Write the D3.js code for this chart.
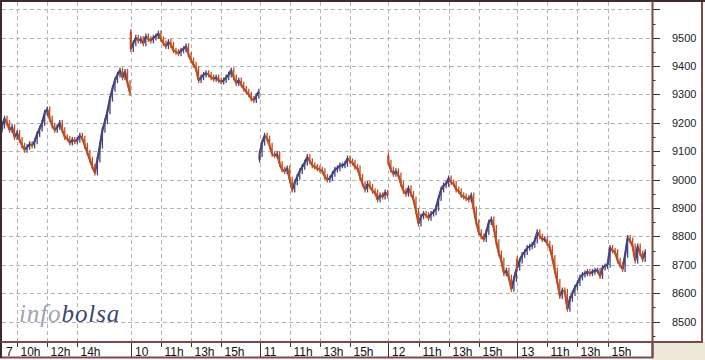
<!DOCTYPE html>
<html>
<head>
<meta charset="utf-8">
<script src="https://cdn.jsdelivr.net/npm/d3@7"></script>
<style>
  html, body { margin: 0; padding: 0; background: #fff; }
  #chart-container { width: 705px; height: 360px; }
</style>
</head>
<body>
<div id="chart-container"></div>
<script>
// sessions shown on the x axis
const dayLabels = ["7", "10", "11", "12", "13"];
const hourTicks = [[10, 12, 14], [11, 13, 15], [11, 13, 15], [11, 13, 15], [11, 13, 15]];
const yLabels = [8500, 8600, 8700, 8800, 8900, 9000, 9100, 9200, 9300, 9400, 9500];

// opening print of each session (first bar spans open -> first level)
const sessionOpen = [9175, 9520, 9070, 9085, 8720];

// index level every 10 minutes from 9:00 to 17:30, one array per session
const stepMinutes = 10;
const day7 = [9190, 9215, 9200, 9175, 9185, 9150, 9165, 9140, 9120, 9105, 9115, 9125, 9120, 9135, 9160, 9180,
  9200, 9235, 9248, 9215, 9190, 9175, 9185, 9200, 9175, 9150, 9145, 9130, 9140, 9135, 9140, 9155, 9145, 9120,
  9095, 9070, 9045, 9025, 9070, 9120, 9175, 9205, 9240, 9285, 9320, 9350, 9370, 9385, 9360, 9380, 9340, 9305];
const day10 = [9460, 9480, 9500, 9490, 9495, 9480, 9505, 9495, 9490, 9500, 9505, 9515, 9495, 9480, 9470, 9485,
  9475, 9455, 9450, 9445, 9455, 9460, 9470, 9440, 9420, 9405, 9390, 9350, 9360, 9370, 9375, 9370, 9360, 9355,
  9360, 9350, 9345, 9350, 9360, 9370, 9385, 9360, 9340, 9350, 9335, 9320, 9310, 9300, 9285, 9280, 9295, 9310];
const day11 = [9090, 9130, 9155, 9145, 9120, 9090, 9085, 9090, 9055, 9035, 9030, 9040, 9000, 8965, 8990, 9010,
  9030, 9045, 9060, 9080, 9065, 9050, 9045, 9040, 9035, 9030, 9010, 9000, 9005, 9020, 9035, 9040, 9050, 9050,
  9055, 9075, 9065, 9060, 9045, 9040, 9010, 8985, 8965, 8985, 8975, 8960, 8955, 8930, 8945, 8940, 8955, 8945];
const day12 = [9060, 9035, 9020, 9030, 9015, 8985, 8960, 8950, 8970, 8950, 8930, 8890, 8845, 8870, 8880, 8875,
  8865, 8880, 8885, 8900, 8935, 8965, 8980, 8985, 9005, 8990, 8985, 8965, 8960, 8945, 8940, 8935, 8930, 8945,
  8895, 8850, 8815, 8800, 8790, 8815, 8850, 8860, 8830, 8780, 8740, 8715, 8670, 8680, 8655, 8615, 8650, 8685];
const day13 = [8690, 8715, 8735, 8745, 8760, 8765, 8770, 8785, 8815, 8800, 8790, 8790, 8775, 8760, 8725, 8680,
  8640, 8590, 8610, 8605, 8545, 8580, 8600, 8620, 8635, 8655, 8665, 8670, 8675, 8670, 8675, 8680, 8680, 8660,
  8690, 8695, 8700, 8760, 8750, 8745, 8715, 8700, 8685, 8735, 8795, 8785, 8765, 8715, 8765, 8740, 8720, 8745];
const sessions = [day7, day10, day11, day12, day13];

const upColor = "#45457f";
const downColor = "#bd4f23";
const frameColor = "#7a4a4a";

const render_chart = () => {
  let element = document.getElementById("chart-container");
  let width = 705, height = 360;
  let plot = { left: 2, right: 652, top: 2, bottom: 342 };
  let dayLen = 8.55; // hours per session on the axis

  let svg = d3.select(element).append("svg").attr("width", width).attr("height", height)
    .style("font-family", "'Liberation Sans', Arial, sans-serif");

  svg.append("rect").attr("width", width).attr("height", height).attr("fill", "#fff");
  svg.append("rect").attr("x", 652).attr("y", 342).attr("width", 53).attr("height", 18).attr("fill", "#ece9d8");

  let xScale = d3.scaleLinear().domain([0, dayLen * 5 + 0.4]).range([plot.left, plot.right]);
  let yScale = d3.scaleLinear().domain([8500, 9500]).range([321.6, 37.7]);
  const hourT = (d, h) => d * dayLen + (h - 9);

  // grid
  let grid = svg.append("g").attr("stroke", "#b4b4b4").attr("stroke-dasharray", "4,3").attr("stroke-width", 1);
  grid.selectAll(".hgrid").data(yLabels.concat([9600])).enter().append("line")
    .attr("x1", plot.left).attr("x2", plot.right)
    .attr("y1", (d) => Math.round(yScale(d)) + 0.5).attr("y2", (d) => Math.round(yScale(d)) + 0.5);
  let vgrid = [];
  hourTicks.forEach((hs, d) => {
    if (d > 0) vgrid.push(hourT(d, 9));
    hs.forEach((h) => vgrid.push(hourT(d, h)));
  });
  grid.selectAll(".vgrid").data(vgrid).enter().append("line")
    .attr("y1", plot.top).attr("y2", plot.bottom)
    .attr("x1", (d) => Math.round(xScale(d)) + 0.5).attr("x2", (d) => Math.round(xScale(d)) + 0.5);

  // watermark
  let wm = svg.append("text").attr("x", 19).attr("y", 321.5)
    .style("font-family", "'Liberation Serif', 'DejaVu Serif', serif")
    .style("font-style", "italic").style("font-size", "25px").style("letter-spacing", "0.9px");
  wm.append("tspan").attr("fill", "#9da2b6").text("info");
  wm.append("tspan").attr("fill", "#3c4872").text("bolsa");

  // price series
  let g = svg.append("g");
  let line = d3.line().x((d) => xScale(d.t)).y((d) => yScale(d.v));
  sessions.forEach((vals, d) => {
    let pts = vals.map((v, i) => ({ t: d * dayLen + (i * stepMinutes) / 60, v: v }));
    g.append("path").datum(pts).attr("d", line)
      .attr("fill", "none").attr("stroke", "#6a4a66").attr("stroke-width", 1.4);
    let segs = pts.slice(1).map((p, i) => ({ a: pts[i], b: p }));
    segs.unshift({ a: { t: pts[0].t, v: sessionOpen[d] }, b: pts[0] });
    g.selectAll(".seg" + d).data(segs).enter().append("line")
      .attr("x1", (s) => xScale(s.a.t)).attr("y1", (s) => yScale(s.a.v))
      .attr("x2", (s) => xScale(s.b.t)).attr("y2", (s) => yScale(s.b.v))
      .attr("stroke", (s) => (s.b.v >= s.a.v ? upColor : downColor))
      .attr("stroke-width", 2.2);
    g.selectAll(".bar" + d).data(segs).enter().append("line")
      .attr("x1", (s) => xScale(s.b.t)).attr("x2", (s) => xScale(s.b.t))
      .attr("y1", (s) => yScale(Math.max(s.a.v, s.b.v) + 10))
      .attr("y2", (s) => yScale(Math.min(s.a.v, s.b.v) - 10))
      .attr("stroke", (s) => (s.b.v >= s.a.v ? upColor : downColor))
      .attr("stroke-width", 1.3);
  });

  // frame
  svg.append("path").attr("d", "M1,1H702V342H652.5V357.5H1Z")
    .attr("fill", "none").attr("stroke", frameColor).attr("stroke-width", 2);
  svg.append("line").attr("x1", 0).attr("x2", 705).attr("y1", 1).attr("y2", 1)
    .attr("stroke", "#3e2c2c").attr("stroke-width", 2);
  svg.append("line").attr("x1", 1).attr("x2", 1).attr("y1", 0).attr("y2", 358)
    .attr("stroke", "#3e2c2c").attr("stroke-width", 2);
  svg.append("line").attr("x1", 652.5).attr("x2", 652.5).attr("y1", 1).attr("y2", 357)
    .attr("stroke", frameColor).attr("stroke-width", 2);
  svg.append("line").attr("x1", 1).attr("x2", 702).attr("y1", 342).attr("y2", 342)
    .attr("stroke", frameColor).attr("stroke-width", 2);

  // right axis
  let ya = svg.append("g");
  ya.selectAll(".minor").data(d3.range(8450, 9651, 50)).enter().append("line")
    .attr("x1", 653).attr("x2", (d) => (d % 100 === 0 ? 660 : 655.5))
    .attr("y1", (d) => Math.round(yScale(d)) + 0.5).attr("y2", (d) => Math.round(yScale(d)) + 0.5)
    .attr("stroke", "#333").attr("stroke-width", 1);
  ya.selectAll(".lbl").data(yLabels).enter().append("text")
    .attr("x", 672).attr("y", (d) => yScale(d)).attr("dy", "0.36em")
    .attr("fill", "#222").style("font-size", "11px").text((d) => d);

  // bottom axis
  let xa = svg.append("g");
  dayLabels.forEach((lab, d) => {
    let x0 = Math.round(xScale(hourT(d, 9))) + 0.5;
    if (d > 0) {
      xa.append("line").attr("x1", x0).attr("x2", x0).attr("y1", 343).attr("y2", 357)
        .attr("stroke", "#333").attr("stroke-width", 1);
    }
    xa.append("text").attr("x", x0 + 3.5).attr("y", 355.5).attr("fill", "#111")
      .style("font-size", "12px").text(lab);
    hourTicks[d].forEach((h) => {
      let x = Math.round(xScale(hourT(d, h))) + 0.5;
      xa.append("line").attr("x1", x).attr("x2", x).attr("y1", 343).attr("y2", 347)
        .attr("stroke", "#333").attr("stroke-width", 1);
      xa.append("text").attr("x", x + 3).attr("y", 355.5).attr("fill", "#111")
        .style("font-size", "12px").text(h + "h");
    });
  });
};

render_chart();
</script>
</body>
</html>
